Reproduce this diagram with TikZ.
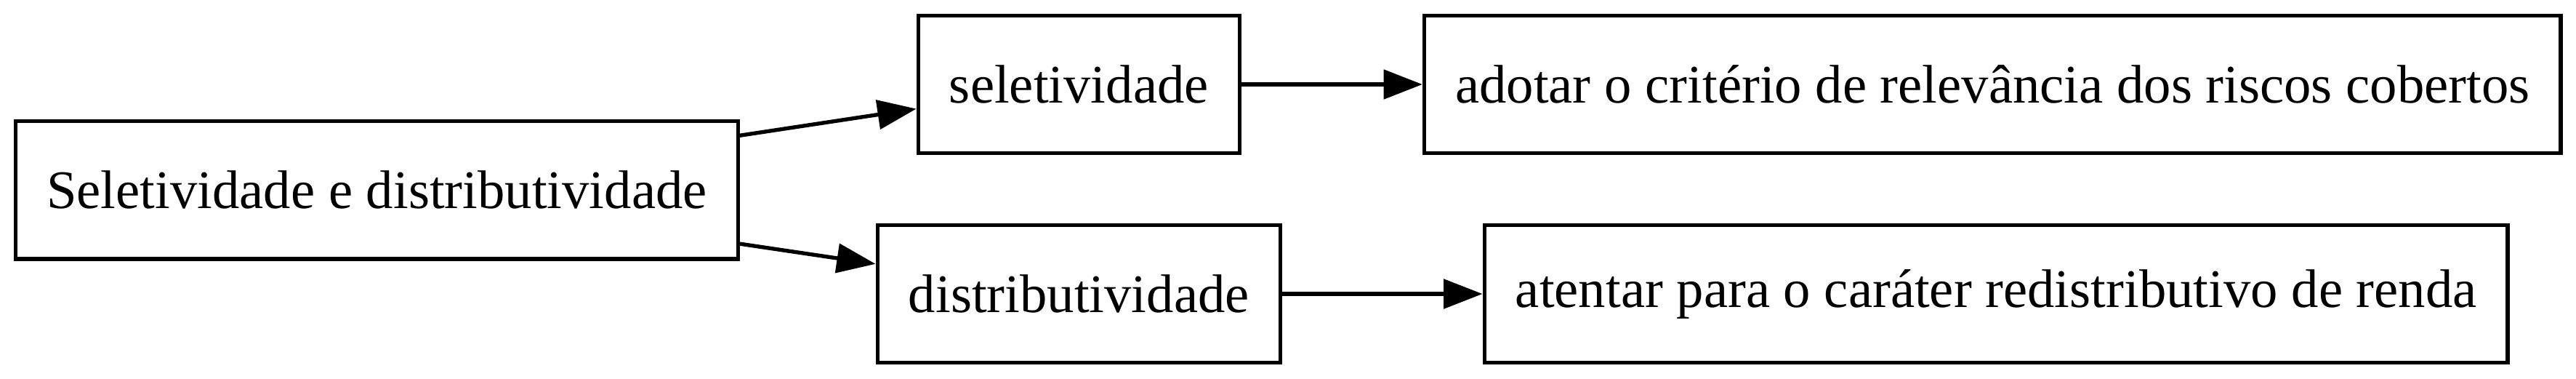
\documentclass[tikz,border=0pt]{standalone}
\usepackage{fontspec}
\setmainfont{Liberation Serif}
\usetikzlibrary{positioning}
\usetikzlibrary{arrows.meta}

\begin{document}
\begin{tikzpicture}[x=1pt,y=1pt,
  every node/.style={draw,rectangle,line width=1pt,minimum height=35.5pt,
    inner xsep=8pt,font=\fontsize{14}{17}\selectfont},
  flow/.style={line width=1pt,-{Triangle[length=10pt,width=7.5pt]}}]
\useasboundingbox (0,0) rectangle (664.5,97.5);
\node (root) at (97.2,48.5) {Seletividade e distributividade};
\node (sel) at (278.3,75.75) {seletividade};
\node (dist) at (278.3,21.75) {distributividade};
\node (adotar) at (514,75.75) {adotar o critério de relevância dos riscos cobertos};
\node (atentar) at (514.9,21.75) {atentar para o caráter redistributivo de renda};
\draw[flow] (root) -- (sel);
\draw[flow] (root) -- (dist);
\draw[flow] (sel) -- (adotar);
\draw[flow] (dist) -- (atentar);
\end{tikzpicture}
\end{document}
